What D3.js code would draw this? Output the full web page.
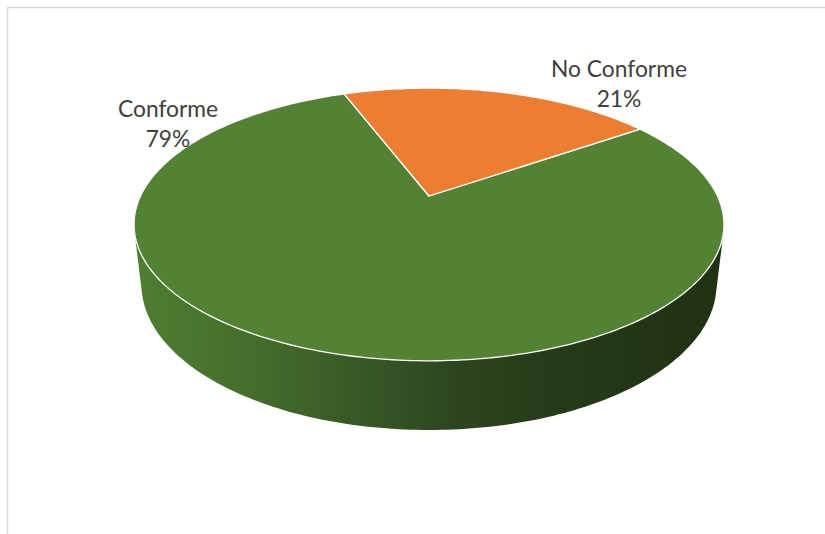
<!DOCTYPE html>
<html>
<head>
<meta charset="utf-8">
<script src="https://cdn.jsdelivr.net/npm/d3@7"></script>
<style>
  html, body { margin: 0; padding: 0; background: #ffffff; }
  svg { display: block; }
</style>
</head>
<body>
<svg id="chart" width="825" height="534"></svg>
<script>
// Share of items by conformity status
const categories = ["Conforme", "No Conforme"];
const values = [79, 21];
const percentLabels = ["79%", "21%"];
const sliceColors = ["#548235", "#ED7D31"];

const W = 825, H = 534;
const svg = d3.select("#chart");

// Chart-area frame (light grey, runs off the right and bottom edges)
svg.append("line").attr("x1", 7.5).attr("y1", 7.5).attr("x2", W).attr("y2", 7.5)
  .attr("stroke", "#d9d9d9").attr("stroke-width", 1.5);
svg.append("line").attr("x1", 7.5).attr("y1", 7.5).attr("x2", 7.5).attr("y2", H)
  .attr("stroke", "#d9d9d9").attr("stroke-width", 1.5);

// Perspective camera for a tilted disc of unit radius
const cam = {
  cx: 429, cy: 196,      // screen position of the disc centre
  f: 1232,               // focal length (px)
  d: 4.271,              // camera distance (disc radii)
  elev: Math.asin(0.452),// elevation angle
  thickness: 0.2354      // disc thickness (disc radii)
};
const sinE = Math.sin(cam.elev), cosE = Math.cos(cam.elev);

// angle: radians clockwise from the far (12 o'clock) point; yUp: height above the top face
function project(angle, yUp) {
  const x = Math.sin(angle);
  const z = -Math.cos(angle);            // + toward viewer
  const depth = cam.d - z * cosE - yUp * sinE;
  const down = z * sinE - yUp * cosE;
  return [cam.cx + cam.f * x / depth, cam.cy + cam.f * down / depth];
}

const pie = d3.pie()
  .sort(null)
  .value(d => d)
  .startAngle(55 * Math.PI / 180)
  .endAngle(55 * Math.PI / 180 + 2 * Math.PI);
const arcs = pie(values);

// Side wall: convex hull of top and bottom rims, shaded across the screen
const rimTop = d3.range(0, 360, 1).map(a => project(a * Math.PI / 180, 0));
const rimBottom = d3.range(0, 360, 1).map(a => project(a * Math.PI / 180, -cam.thickness));
const hull = d3.polygonHull(rimTop.concat(rimBottom));
const xMin = d3.min(rimTop, p => p[0]), xMax = d3.max(rimTop, p => p[0]);

const defs = svg.append("defs");
const grad = defs.append("linearGradient")
  .attr("id", "wallShade")
  .attr("gradientUnits", "userSpaceOnUse")
  .attr("x1", xMin).attr("y1", 0).attr("x2", xMax).attr("y2", 0);
const shadeStops = [
  [0.00, "#4f7e32"], [0.20, "#456d2c"], [0.40, "#375625"],
  [0.55, "#2c4520"], [0.70, "#253b19"], [1.00, "#1f3214"]
];
shadeStops.forEach(([o, c]) => grad.append("stop").attr("offset", o).attr("stop-color", c));

svg.append("path")
  .attr("d", "M" + hull.join("L") + "Z")
  .attr("fill", "url(#wallShade)");

// Top face slices
const line = d3.line();
function slicePath(a) {
  const n = Math.max(2, Math.ceil((a.endAngle - a.startAngle) / (Math.PI / 180)));
  const pts = [[cam.cx, cam.cy]];
  for (let i = 0; i <= n; i++) {
    const t = a.startAngle + (a.endAngle - a.startAngle) * i / n;
    pts.push(project(t, 0));
  }
  return line(pts) + "Z";
}

svg.append("g").selectAll("path")
  .data(arcs)
  .join("path")
  .attr("d", slicePath)
  .attr("fill", (d, i) => sliceColors[i])
  .attr("stroke", "#ffffff")
  .attr("stroke-width", 1.3)
  .attr("stroke-linejoin", "round");

// Data labels (category + percentage)
const labelPos = [[168, 117], [619, 77]];
const lab = svg.append("g")
  .attr("font-family", "Lato, 'Open Sans', sans-serif")
  .attr("font-size", 22.8)
  .attr("fill", "#404040")
  .attr("text-anchor", "middle");
categories.forEach((c, i) => {
  const t = lab.append("text").attr("x", labelPos[i][0]).attr("y", labelPos[i][1]);
  t.append("tspan").attr("x", labelPos[i][0]).text(c);
  t.append("tspan").attr("x", labelPos[i][0]).attr("dy", 30).text(percentLabels[i]);
});
</script>
</body>
</html>
